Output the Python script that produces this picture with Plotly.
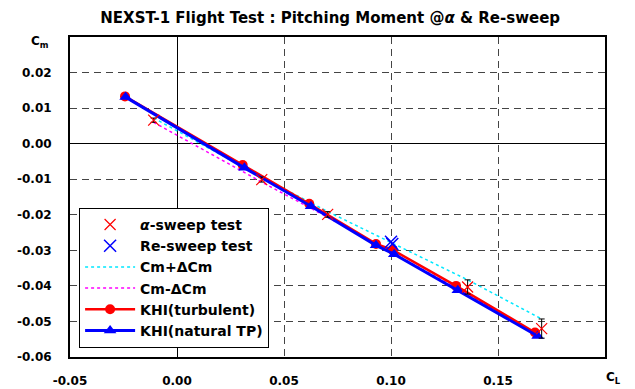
import plotly.graph_objects as go

# alpha-sweep flight test
alpha_cl = [-0.0109, 0.0396, 0.0704, 0.1358, 0.1704]
alpha_cm = [0.0066, -0.0101, -0.0199, -0.0403, -0.0520]
alpha_dcm = [0.0006, 0.0007, 0.0008, 0.0020, 0.0027]
cm_plus = [c + d for c, d in zip(alpha_cm, alpha_dcm)]
cm_minus = [c - d for c, d in zip(alpha_cm, alpha_dcm)]

# Re-sweep flight test
re_cl = [0.1000, 0.1006]
re_cm = [-0.0276, -0.0282]

# KHI predictions
khi_turb_cl = [-0.0243, 0.0307, 0.0618, 0.0930, 0.1008, 0.1304, 0.1673]
khi_turb_cm = [0.0133, -0.0060, -0.0169, -0.0282, -0.0299, -0.0400, -0.0531]
khi_nat_cl = [-0.0240, 0.0315, 0.0626, 0.0930, 0.1015, 0.1312, 0.1685]
khi_nat_cm = [0.0131, -0.0068, -0.0176, -0.0286, -0.0311, -0.0412, -0.0541]

x_ticks = [-0.05, 0.00, 0.05, 0.10, 0.15]
x_tick_text = ["-0.05", "0.00", "0.05", "0.10", "0.15"]
y_ticks = [-0.06, -0.05, -0.04, -0.03, -0.02, -0.01, 0.00, 0.01, 0.02]
y_tick_text = ["-0.06", "-0.05", "-0.04", "-0.03", "-0.02", "-0.01", "0.00", "0.01", "0.02"]

FONT = "DejaVu Sans"

fig = go.Figure()

fig.add_trace(go.Scatter(x=alpha_cl, y=cm_plus, mode="lines", name="Cm+ΔCm",
                         line=dict(color="#00E8FF", width=1.5, dash="dot"), legendrank=3))
fig.add_trace(go.Scatter(x=alpha_cl, y=cm_minus, mode="lines", name="Cm-ΔCm",
                         line=dict(color="#FF00FF", width=1.5, dash="dot"), legendrank=4))
fig.add_trace(go.Scatter(x=khi_turb_cl, y=khi_turb_cm, mode="lines+markers", name="KHI(turbulent)",
                         line=dict(color="#FF0000", width=2.5),
                         marker=dict(symbol="circle", size=10, color="#FF0000"), legendrank=5))
fig.add_trace(go.Scatter(x=khi_nat_cl, y=khi_nat_cm, mode="lines+markers", name="KHI(natural TP)",
                         line=dict(color="#0000FF", width=3),
                         marker=dict(symbol="triangle-up", size=11, color="#0000FF"), legendrank=6))
fig.add_trace(go.Scatter(x=alpha_cl, y=alpha_cm, mode="markers", name="<i>α</i>-sweep test",
                         marker=dict(symbol="x-thin", size=11, line=dict(color="#FF0000", width=1.2)),
                         error_y=dict(type="data", array=alpha_dcm, color="black", thickness=1, width=3),
                         legendrank=1))
fig.add_trace(go.Scatter(x=re_cl, y=re_cm, mode="markers", name="Re-sweep test",
                         marker=dict(symbol="x-thin", size=12, line=dict(color="#0000FF", width=1.5)),
                         legendrank=2))

axis_common = dict(showline=True, linecolor="black", linewidth=2, mirror=True,
                   showgrid=True, gridcolor="#444", gridwidth=1, griddash="7px,5px",
                   zeroline=True, zerolinecolor="black", zerolinewidth=1, automargin=False,
                   ticks="", tickfont=dict(family=FONT, size=12, color="black", weight="bold"))

fig.update_xaxes(range=[-0.05, 0.20], tickvals=x_ticks, ticktext=x_tick_text,
                 ticklabelstandoff=12, **axis_common)
fig.update_yaxes(range=[-0.06, 0.03], tickvals=y_ticks, ticktext=y_tick_text,
                 ticklabelstandoff=14, **axis_common)

fig.update_layout(
    width=635, height=389,
    margin=dict(l=70, r=30, t=37, b=32),
    paper_bgcolor="white", plot_bgcolor="white",
    title=dict(text="NEXST-1 Flight Test : Pitching Moment @<i>α</i> & Re-sweep",
               x=0.52, xanchor="center", y=0.955, yanchor="middle",
               font=dict(family=FONT, size=15, color="black", weight="bold")),
    legend=dict(x=0.017, y=0.466, xanchor="left", yanchor="top",
                bgcolor="white", bordercolor="black", borderwidth=1,
                font=dict(family=FONT, size=14, color="black", weight="bold"),
                itemwidth=50, tracegroupgap=0),
    showlegend=True,
    annotations=[
        dict(text="C<sub>m</sub>", xref="paper", yref="paper", x=-0.035, y=0.985,
             xanchor="right", yanchor="middle", showarrow=False,
             font=dict(family=FONT, size=12, color="black", weight="bold")),
        dict(text="C<sub>L</sub>", xref="paper", yref="paper", x=1.015, y=-0.065,
             xanchor="center", yanchor="middle", showarrow=False,
             font=dict(family=FONT, size=12, color="black", weight="bold")),
    ],
)

fig.write_html("out.html")
